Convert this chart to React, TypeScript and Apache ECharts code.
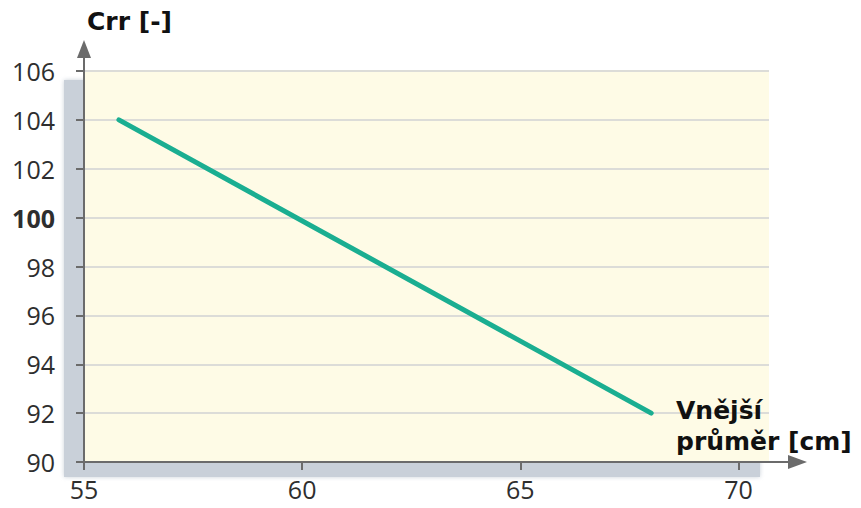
import React, { useEffect, useRef } from "react";
import * as echarts from "echarts";

const xTicks = [55, 60, 65, 70];
const lineX = [55.8, 68];
const lineY = [104, 92];
const yMin = 90;
const yMax = 106;
const yStep = 2;
const xMin = 55;
const xMax = 70.7;
const yTitle = "Crr [-]";
const xTitle = "Vnější\nprůměr [cm]";

const G = { left: 84, right: 92, top: 71, bottom: 46 };
const W = 861;
const H = 508;

export default function App() {
  const ref = useRef<HTMLDivElement>(null);
  useEffect(() => {
    if (!ref.current) return;
    const chart = echarts.init(ref.current, null, { renderer: "svg" });
    const x0 = G.left;
    const x1 = W - G.right;
    const y0 = G.top;
    const y1 = H - G.bottom;
    const axisColor = "#6b6b6b";
    chart.setOption({
      animation: false,
      grid: { left: G.left, right: G.right, top: G.top, bottom: G.bottom, containLabel: false },
      xAxis: {
        type: "value",
        min: xMin,
        max: xMax,
        axisLine: { show: false },
        splitLine: { show: false },
        axisTick: { show: true, length: 8, customValues: xTicks, lineStyle: { color: axisColor, width: 2 } },
        axisLabel: {
          customValues: xTicks,
          fontSize: 25,
          fontFamily: "Open Sans",
          color: "#2e2e2e",
          margin: 14,
        },
      },
      yAxis: {
        type: "value",
        min: yMin,
        max: yMax,
        interval: yStep,
        axisLine: { show: false },
        splitLine: { show: true, lineStyle: { color: "#dcdcd8", width: 2 } },
        axisTick: { show: true, length: 8, lineStyle: { color: axisColor, width: 2 } },
        axisLabel: {
          fontSize: 25,
          fontFamily: "Open Sans",
          color: "#2e2e2e",
          margin: 29,
          formatter: (v: number) => (v === 100 ? "{b|100}" : String(v)),
          rich: { b: { fontSize: 25, fontFamily: "Open Sans", fontWeight: "bold", color: "#2e2e2e" } },
        },
      },
      graphic: [
        {
          type: "rect",
          z: -2,
          shape: { x: 64, y: 80, width: x1 - 64 - 9, height: y1 + 15 - 80 },
          style: { fill: "#c9d0d9", shadowBlur: 4, shadowColor: "#c9d0d9" },
        },
        {
          type: "rect",
          z: -1,
          shape: { x: x0, y: y0, width: x1 - x0, height: y1 - y0 },
          style: { fill: "#fefbe6" },
        },
        {
          type: "line",
          z: 5,
          shape: { x1: x0, y1: y1 + 8, x2: x0, y2: 52 },
          style: { stroke: axisColor, lineWidth: 2 },
        },
        {
          type: "polygon",
          z: 5,
          shape: { points: [[x0, 40], [x0 - 7, 58], [x0 + 7, 58]] },
          style: { fill: axisColor },
        },
        {
          type: "line",
          z: 5,
          shape: { x1: x0 - 8, y1: y1, x2: 792, y2: y1 },
          style: { stroke: axisColor, lineWidth: 2 },
        },
        {
          type: "polygon",
          z: 5,
          shape: { points: [[807, y1], [788, y1 - 7], [788, y1 + 7]] },
          style: { fill: axisColor },
        },
        {
          type: "text",
          z: 6,
          style: {
            x: 87,
            y: 9,
            text: yTitle,
            font: "bold 25px 'DejaVu Sans'",
            fill: "#111",
            textVerticalAlign: "top",
          },
        },
        {
          type: "text",
          z: 6,
          style: {
            x: 676,
            y: 395,
            text: xTitle,
            font: "bold 25px 'DejaVu Sans'",
            lineHeight: 31,
            fill: "#111",
            textVerticalAlign: "top",
          },
        },
      ],
      series: [
        {
          type: "line",
          data: lineX.map((x, i) => [x, lineY[i]]),
          symbol: "none",
          lineStyle: { color: "#1aae91", width: 5, cap: "round" },
          z: 3,
        },
      ],
    });
    return () => chart.dispose();
  }, []);
  return <div ref={ref} style={{ width: W, height: H, marginLeft: -8, marginTop: -8 }} />;
}
